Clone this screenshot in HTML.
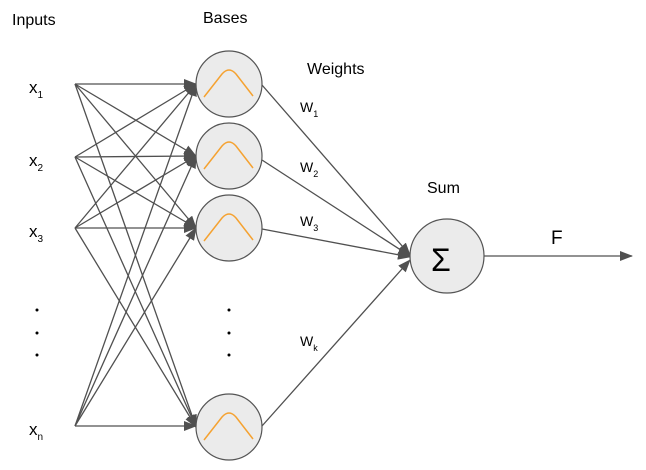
<!DOCTYPE html>
<html><head><style>body{margin:0;background:#fff}svg{display:block}</style></head><body>
<svg width="646" height="470" xmlns="http://www.w3.org/2000/svg" font-family="Liberation Sans, sans-serif">
<defs>
<marker id="a" markerWidth="13" markerHeight="10" refX="12" refY="5" orient="auto" markerUnits="userSpaceOnUse"><path d="M0,0 L13,5 L0,10 z" fill="#505050"/></marker>
</defs>
<g stroke="#505050" stroke-width="1.3" marker-end="url(#a)">
<line x1="75" y1="84" x2="196" y2="84"/><line x1="75" y1="84" x2="196" y2="156"/><line x1="75" y1="84" x2="196" y2="228"/><line x1="75" y1="84" x2="196" y2="427"/>
<line x1="75" y1="157" x2="196" y2="84"/><line x1="75" y1="157" x2="196" y2="156"/><line x1="75" y1="157" x2="196" y2="228"/><line x1="75" y1="157" x2="196" y2="427"/>
<line x1="75" y1="228" x2="196" y2="84"/><line x1="75" y1="228" x2="196" y2="156"/><line x1="75" y1="228" x2="196" y2="228"/><line x1="75" y1="228" x2="196" y2="427"/>
<line x1="75" y1="426" x2="196" y2="84"/><line x1="75" y1="426" x2="196" y2="156"/><line x1="75" y1="426" x2="196" y2="228"/><line x1="75" y1="426" x2="196" y2="426"/>
<line x1="262" y1="85" x2="410" y2="255"/><line x1="262" y1="160" x2="410" y2="256"/><line x1="262" y1="229" x2="410" y2="257"/><line x1="262" y1="426" x2="410" y2="260"/>
<line x1="484" y1="256" x2="632" y2="256"/>
</g>
<g fill="#ebebeb" stroke="#555" stroke-width="1.2">
<circle cx="229" cy="84" r="33"/><circle cx="229" cy="156" r="33"/><circle cx="229" cy="228" r="33"/><circle cx="229" cy="427" r="33"/>
<circle cx="447" cy="256" r="37"/>
</g>
<g fill="none" stroke="#f5a231" stroke-width="1.5">
<path d="M204,97 L222,74 Q229,66 236,74 L253,96"/>
<path d="M204,169 L222,146 Q229,138 236,146 L253,168"/>
<path d="M204,241 L222,218 Q229,210 236,218 L253,240"/>
<path d="M204,440 L222,417 Q229,409 236,417 L253,439"/>
</g>
<g fill="#000" font-size="16">
<text x="12" y="25">Inputs</text><text x="203" y="23">Bases</text><text x="307" y="74">Weights</text><text x="427" y="193">Sum</text>
<text x="551" y="244" font-size="19">F</text>
<text x="431" y="271" font-size="32">Σ</text>
<text x="29" y="93" font-size="17">x<tspan font-size="10" dy="5">1</tspan></text>
<text x="29" y="166" font-size="17">x<tspan font-size="10" dy="5">2</tspan></text>
<text x="29" y="237" font-size="17">x<tspan font-size="10" dy="5">3</tspan></text>
<text x="29" y="435" font-size="17">x<tspan font-size="10" dy="5">n</tspan></text>
<g font-size="14"><text x="300" y="112">W<tspan font-size="9" dy="5">1</tspan></text>
<text x="300" y="172">W<tspan font-size="9" dy="5">2</tspan></text>
<text x="300" y="226">W<tspan font-size="9" dy="5">3</tspan></text>
<text x="300" y="346">W<tspan font-size="9" dy="5">k</tspan></text></g>
</g>
<g fill="#000"><circle cx="37" cy="310" r="1.5"/><circle cx="37" cy="333" r="1.5"/><circle cx="37" cy="355" r="1.5"/>
<circle cx="229" cy="310" r="1.5"/><circle cx="229" cy="333" r="1.5"/><circle cx="229" cy="355" r="1.5"/></g>
</svg>
</body></html>
